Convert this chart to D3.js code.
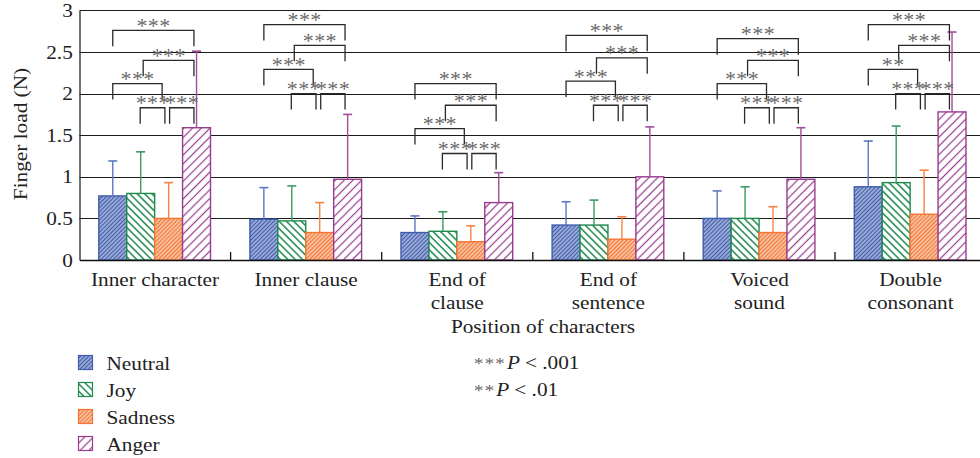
<!DOCTYPE html>
<html><head><meta charset="utf-8">
<script src="https://cdn.jsdelivr.net/npm/d3@7"></script>
<style>
body{margin:0;background:#fff;}
svg{display:block;}
text{font-family:"Liberation Serif","Times New Roman",serif;fill:#222;}
</style>
</head><body>
<svg id="chart" width="980" height="458"></svg>
<script>
// ---------- data ----------
const categories = [["Inner character"], ["Inner clause"], ["End of", "clause"], ["End of", "sentence"], ["Voiced", "sound"], ["Double", "consonant"]];
const seriesNames = ["Neutral", "Joy", "Sadness", "Anger"];
const neutralMean = [0.77, 0.49, 0.33, 0.42, 0.50, 0.88];
const neutralSD   = [0.42, 0.38, 0.20, 0.28, 0.33, 0.55];
const joyMean     = [0.80, 0.47, 0.345, 0.42, 0.50, 0.93];
const joySD       = [0.50, 0.42, 0.235, 0.30, 0.38, 0.68];
const sadnessMean = [0.50, 0.33, 0.22, 0.25, 0.33, 0.55];
const sadnessSD   = [0.43, 0.36, 0.19, 0.27, 0.31, 0.53];
const angerMean   = [1.59, 0.97, 0.69, 1.00, 0.97, 1.78];
const angerSD     = [0.92, 0.78, 0.36, 0.60, 0.62, 0.96];
const yTicks = [0, 0.5, 1, 1.5, 2, 2.5, 3];
const yTickLabels = ["0", "0.5", "1", "1.5", "2", "2.5", "3"];
// significance comparisons (series index pairs) and their star labels per category
const bracketPairs = [[0, 3], [1, 3], [0, 2], [1, 2], [2, 3]];
const bracketStars = [
  ["***", "***", "***", "***", "***"],
  ["***", "***", "***", "***", "***"],
  ["***", "***", "***", "***", "***"],
  ["***", "***", "***", "***", "***"],
  ["***", "***", "***", "***", "***"],
  ["***", "***", "**", "***", "***"]
];
// bracket heights (in N) per category
const bracketLevels = [
  [2.76, 2.40, 2.12, 1.83, 1.83],
  [2.83, 2.58, 2.29, 2.00, 2.00],
  [2.12, 1.86, 1.58, 1.28, 1.28],
  [2.70, 2.43, 2.15, 1.86, 1.86],
  [2.66, 2.40, 2.12, 1.83, 1.83],
  [2.83, 2.58, 2.29, 2.00, 2.00]
];
const pLegend = [["***", "< .001"], ["**", "< .01"]];

// ---------- styles ----------
const means = [neutralMean, joyMean, sadnessMean, angerMean];
const sds = [neutralSD, joySD, sadnessSD, angerSD];
const strokeCol = ["#3f5cae", "#1f8a4c", "#f27632", "#983c8d"];
const errCol = ["#5b78c2", "#3a9a62", "#f58344", "#a24d99"];
const pat = [
  {w: 2.9, sw: 2.0, rot: 45},
  {w: 5.2, sw: 1.5, rot: -45},
  {w: 2.9, sw: 1.9, rot: 45},
  {w: 6.2, sw: 1.2, rot: 45}
];
const SX = 1.12;

const svg = d3.select("#chart");
const left = 79.5, groupW = 151.1, topY = 10.4, bottomY = 260;

const x0 = d3.scaleBand().domain(d3.range(categories.length)).range([left, left + categories.length * groupW]);
const x1 = d3.scaleBand().domain(seriesNames).range([19.3, 131.0]);
const y = d3.scaleLinear().domain([0, 3]).range([bottomY, topY]);
const bw = x1.bandwidth();

// patterns
const defs = svg.append("defs");
seriesNames.forEach((s, i) => {
  const p = defs.append("pattern").attr("id", "pat" + i)
    .attr("patternUnits", "userSpaceOnUse")
    .attr("width", pat[i].w).attr("height", pat[i].w)
    .attr("patternTransform", `rotate(${pat[i].rot})`);
  p.append("rect").attr("width", pat[i].w).attr("height", pat[i].w).attr("fill", "#fff");
  p.append("line").attr("x1", pat[i].w / 2).attr("x2", pat[i].w / 2)
    .attr("y1", -1).attr("y2", pat[i].w + 1)
    .attr("stroke", strokeCol[i]).attr("stroke-width", pat[i].sw);
});

function txt(parent, x, yy, s, anchor, size) {
  const g = parent.append("g").attr("transform", `translate(${x},${yy}) scale(${SX},1)`);
  return g.append("text").attr("text-anchor", anchor || "start")
    .style("font-size", (size || 19) + "px").text(s);
}

// gridlines
svg.append("g").selectAll("line").data(yTicks.filter(v => v > 0)).join("line")
  .attr("x1", left).attr("x2", 995)
  .attr("y1", d => Math.round(y(d)) + 0.5).attr("y2", d => Math.round(y(d)) + 0.5)
  .attr("stroke", "#1a1a1a").attr("stroke-width", 1);

// bars
const groups = svg.append("g").selectAll("g").data(categories).join("g")
  .attr("transform", (d, i) => `translate(${x0(i)},0)`);

groups.each(function (c, gi) {
  const g = d3.select(this);
  seriesNames.forEach((s, si) => {
    const v = means[si][gi];
    g.append("rect")
      .attr("x", x1(s)).attr("y", y(v))
      .attr("width", bw).attr("height", y(0) - y(v))
      .attr("fill", `url(#pat${si})`)
      .attr("stroke", strokeCol[si]).attr("stroke-width", 1.4);
  });
  seriesNames.forEach((s, si) => {
    const v = means[si][gi], e = v + sds[si][gi];
    const cx = x1(s) + bw / 2;
    g.append("line").attr("x1", cx).attr("x2", cx).attr("y1", y(v)).attr("y2", y(e))
      .attr("stroke", errCol[si]).attr("stroke-width", 1.4);
    g.append("line").attr("x1", cx - 4.5).attr("x2", cx + 4.5).attr("y1", y(e)).attr("y2", y(e))
      .attr("stroke", errCol[si]).attr("stroke-width", 1.6);
  });
  // significance brackets
  const off = [[0, -2.6], [2.5, -2.6], [0, -6.5], [-0.5, -3.7], [1, -2.6]];
  bracketPairs.forEach((pr, k) => {
    const xa = x1(seriesNames[pr[0]]) + bw / 2 + off[k][0];
    const xb = x1(seriesNames[pr[1]]) + bw / 2 + off[k][1];
    const yt = y(bracketLevels[gi][k]);
    g.append("path")
      .attr("d", `M${xa},${yt + 16}V${yt}H${xb}V${yt + 16}`)
      .attr("fill", "none").attr("stroke", "#2a2a2a").attr("stroke-width", 1.3);
    const st = bracketStars[gi][k];
    const cx = (xa + xb) / 2;
    for (let j = 0; j < st.length; j++) {
      g.append("text").attr("x", cx + (j - (st.length - 1) / 2) * 11.4).attr("y", yt + 2.5)
        .attr("text-anchor", "middle").style("font-size", "22px").style("fill", "#6a6a6a")
        .text("*");
    }
  });
  // category labels
  c.forEach((line, li) => {
    txt(g, groupW / 2, 286 + li * 23, line, "middle");
  });
});

// axes
const yAxis = svg.append("g").attr("transform", `translate(${left},0)`)
  .call(d3.axisLeft(y).tickValues(yTicks).tickSize(0).tickPadding(6)
    .tickFormat((d, i) => yTickLabels[i]));
yAxis.select(".domain").attr("stroke", "#111").attr("stroke-width", 1.2);
yAxis.selectAll(".tick text")
  .attr("transform", `scale(${SX},1)`)
  .style("font-size", "19px").style("font-family", '"Liberation Serif","Times New Roman",serif')
  .attr("fill", "#222");

const xAxis = svg.append("g").attr("transform", `translate(0,${bottomY})`)
  .call(d3.axisBottom(x0).tickSize(0).tickFormat(""));
xAxis.select(".domain").attr("stroke", "#111").attr("stroke-width", 1.4);
// inward ticks at group boundaries
svg.append("g").selectAll("line").data(d3.range(1, categories.length + 1)).join("line")
  .attr("x1", d => x0(d - 1) + groupW).attr("x2", d => x0(d - 1) + groupW)
  .attr("y1", bottomY).attr("y2", bottomY - 8)
  .attr("stroke", "#111").attr("stroke-width", 1.3);

// axis titles
txt(svg, 543, 333, "Position of characters", "middle");
svg.append("g").attr("transform", `translate(27,134) rotate(-90) scale(${SX},1)`)
  .append("text").attr("text-anchor", "middle").style("font-size", "19px").text("Finger load (N)");

// legend
seriesNames.forEach((s, i) => {
  const by = 370 + i * 27;
  svg.append("rect").attr("x", 78.5).attr("y", by - 14.5).attr("width", 14).attr("height", 14)
    .attr("fill", `url(#pat${i})`).attr("stroke", strokeCol[i]).attr("stroke-width", 1.2);
  txt(svg, 106.5, by, s, "start");
});
pLegend.forEach((p, i) => {
  const g = svg.append("g").attr("transform", `translate(474,${369 + i * 27}) scale(${SX},1)`);
  const t = g.append("text").style("font-size", "19px");
  t.append("tspan").style("fill", "#666").style("font-size", "17px").attr("letter-spacing", "1px").text(p[0]);
  t.append("tspan").style("font-style", "italic").attr("dx", "1").text("P ");
  t.append("tspan").text(p[1]);
});
</script>
</body></html>
